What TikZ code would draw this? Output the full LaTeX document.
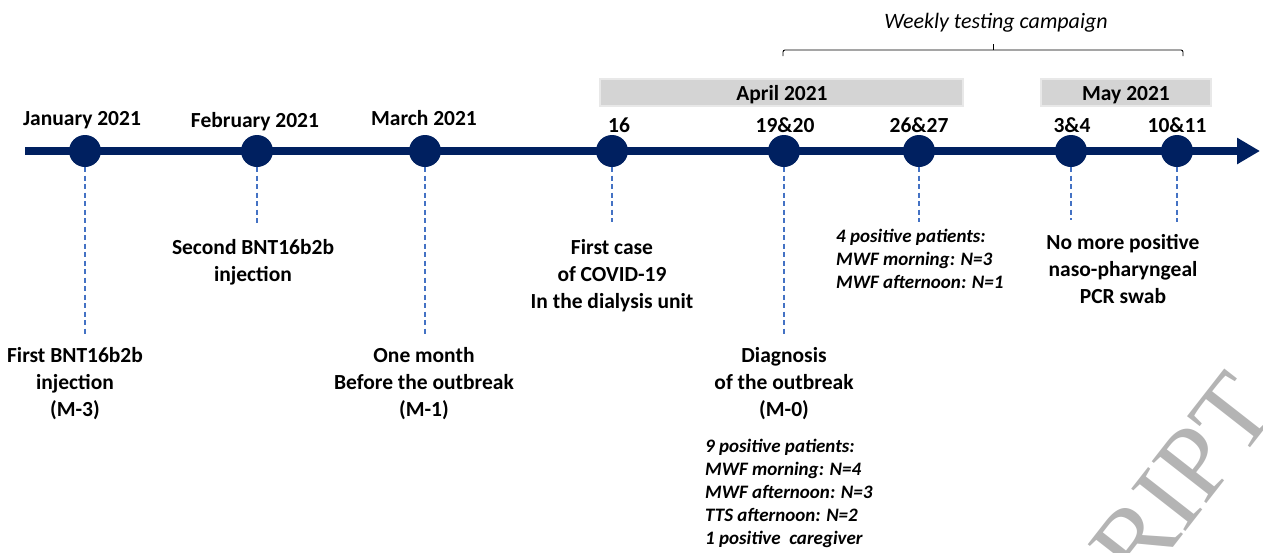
\documentclass[tikz,border=0pt]{standalone}
\usepackage{fontspec}
\setmainfont{Carlito}
\newfontfamily\wmfont{Liberation Serif}
\usetikzlibrary{arrows.meta,calc}
\definecolor{navy}{HTML}{002060}
\definecolor{guideblue}{HTML}{4472C4}
\definecolor{bandgray}{HTML}{D4D4D4}
\definecolor{bandhalo}{HTML}{E8E8E8}
\definecolor{wmgray}{HTML}{B4B4B4}
\begin{document}
\begin{tikzpicture}[x=1pt,y=-1pt,
  dot/.style={circle,fill=navy,minimum size=32pt,inner sep=0pt},
  lbl/.style={font=\fontsize{21.5}{27}\selectfont\bfseries,align=center,inner sep=0pt},
  datelbl/.style={font=\fontsize{21.5}{27}\selectfont\bfseries,inner sep=0pt,anchor=base},
  note/.style={font=\fontsize{19}{23}\selectfont\bfseries\itshape,align=left,inner sep=0pt,anchor=north west},
  guide/.style={draw=guideblue,line width=1.1pt,dash pattern=on 5pt off 3.5pt},
]
\useasboundingbox (0,0) rectangle (1263,552);
\begin{scope}
\clip (0,0) rectangle (1263,552);
\node[rotate=52,anchor=base west,text=wmgray,font=\wmfont\fontsize{105}{105}\selectfont,inner sep=0pt] (wm) at (1097,645) {CRIPT};
\end{scope}

% month bands
\fill[bandhalo] (599,78) rectangle (964,107);
\fill[bandgray] (601,80) rectangle (962,105);
\fill[bandhalo] (1040,78) rectangle (1212,107);
\fill[bandgray] (1042,80) rectangle (1210,105);
\node[datelbl] (apr) at (782,100) {April 2021};
\node[datelbl] (may) at (1126,100) {May 2021};

% bracket
\node[font=\fontsize{22}{26}\selectfont\itshape,inner sep=0pt,anchor=base] (wk) at (996,28) {Weekly testing campaign};
\coordinate (bl) at (783,50);
\coordinate (br) at (1183,50);
\coordinate (bm) at (993,50);
\draw[line width=0.9pt,rounded corners=2pt] ($(bl)+(0,6)$) -- (bl) -- (br) -- ($(br)+(0,6)$);
\draw[line width=0.9pt] (bm) -- ++(0,-6);

% timeline
\coordinate (tstart) at (25,151);
\coordinate (tend) at (1260,151);
\draw[navy,line width=8pt,-{Triangle[length=23pt,width=25pt]}] (tstart) -- (tend);

\node[dot] (d1) at (85,151) {};
\node[dot] (d2) at (257,151) {};
\node[dot] (d3) at (425,151) {};
\node[dot] (d4) at (612,151) {};
\node[dot] (d5) at (784,151) {};
\node[dot] (d6) at (919,151) {};
\node[dot] (d7) at (1071,151) {};
\node[dot] (d8) at (1177,151) {};

% date labels
\node[datelbl] (t1) at (82,125) {January 2021};
\node[datelbl] (t2) at (255,127) {February 2021};
\node[datelbl] (t3) at (424,125) {March 2021};
\node[datelbl] (t4) at (619,132) {16};
\node[datelbl] (t5) at (785,132) {19\&20};
\node[datelbl] (t6) at (919,132) {26\&27};
\node[datelbl] (t7) at (1072,132) {3\&4};
\node[datelbl] (t8) at (1177,132) {10\&11};

% descriptions
\node[lbl,anchor=north] (l1) at (75,347) {First BNT16b2b\\injection\\(M-3)};
\node[lbl,anchor=north] (l2) at (253,239) {Second BNT16b2b\\injection};
\node[lbl,anchor=north] (l3) at (424,347) {One month\\Before the outbreak\\(M-1)};
\node[lbl,anchor=north] (l4) at (612,239) {First case\\of COVID-19\\In the dialysis unit};
\node[lbl,anchor=north] (l5) at (784,347) {Diagnosis\\of the outbreak\\(M-0)};
\node[note] (l6) at (836,229) {4 positive patients:\\MWF morning: N=3\\MWF afternoon: N=1};
\node[lbl,anchor=north] (l8) at (1123,234) {No more positive\\naso-pharyngeal\\PCR swab};
\node[note] (l9) at (705,439) {9 positive patients:\\MWF morning: N=4\\MWF afternoon: N=3\\TTS afternoon: N=2\\1 positive~ caregiver};

% guides
\draw[guide,shorten >=13pt] (d1.south) -- (d1.south |- l1.north);
\draw[guide,shorten >=14pt] (d2.south) -- (d2.south |- l2.north);
\draw[guide,shorten >=12pt] (d3.south) -- (d3.south |- l3.north);
\draw[guide,shorten >=17pt] (d4.south) -- (d4.south |- l4.north);
\draw[guide,shorten >=10pt] (d5.south) -- (d5.south |- l5.north);
\draw[guide,shorten >=7pt] (d6.south) -- (d6.south |- l6.north);
\draw[guide,shorten >=14pt] (d7.south) -- (d7.south |- l8.north);
\draw[guide,shorten >=12pt] (d8.south) -- (d8.south |- l8.north);
\end{tikzpicture}
\end{document}
